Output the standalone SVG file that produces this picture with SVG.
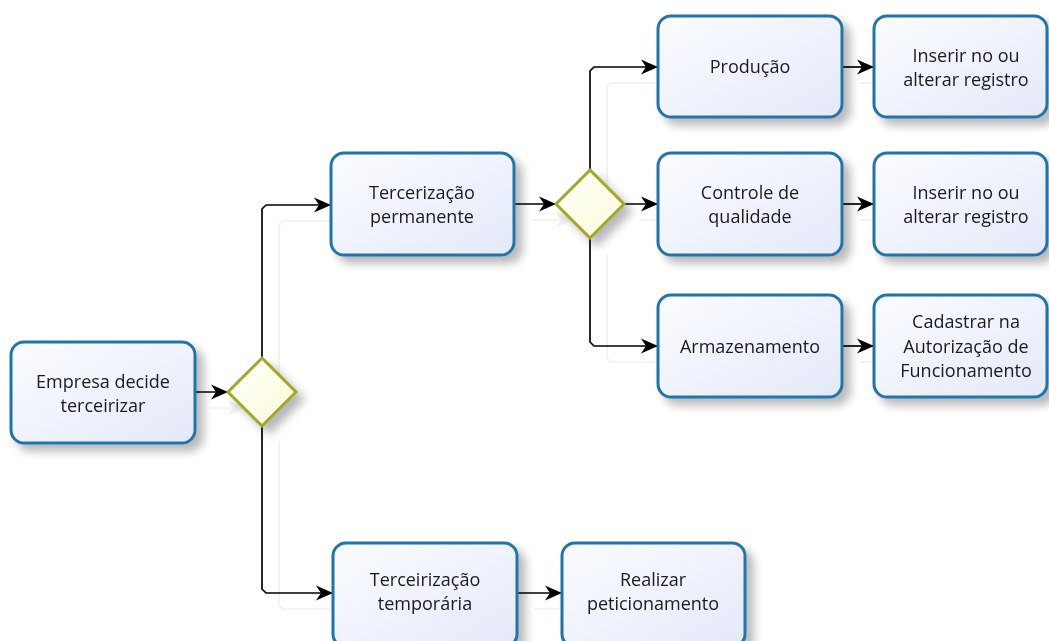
<svg xmlns="http://www.w3.org/2000/svg" width="1049" height="641" viewBox="0 0 1049 641">
<style>
.box{fill:url(#boxGrad);stroke:#2473a8;stroke-width:3}
.gw{fill:url(#gwGrad);stroke:#a5a52a;stroke-width:3}
.lbl{font-family:"Open Sans","DejaVu Sans","Liberation Sans",sans-serif;font-size:18px;fill:#1a1a1a;text-anchor:middle}
.con{fill:none;stroke:#000;stroke-width:1.7;marker-end:url(#arrow)}
</style>
<defs>
<linearGradient id="boxGrad" x1="0" y1="0" x2="1" y2="1">
<stop offset="0" stop-color="#fbfcff"/>
<stop offset="1" stop-color="#e4e9f9"/>
</linearGradient>
<linearGradient id="gwGrad" x1="0" y1="0" x2="1" y2="1">
<stop offset="0" stop-color="#ffffff"/>
<stop offset="1" stop-color="#fbfbd6"/>
</linearGradient>
<filter id="shadow" x="-20%" y="-20%" width="150%" height="150%">
<feGaussianBlur in="SourceAlpha" stdDeviation="5"/>
<feOffset dx="7" dy="7" result="b"/>
<feComponentTransfer><feFuncA type="linear" slope="0.28"/></feComponentTransfer>
<feMerge><feMergeNode/><feMergeNode in="SourceGraphic"/></feMerge>
</filter>
<filter id="lineShadow" x="-20%" y="-20%" width="150%" height="150%">
<feOffset in="SourceAlpha" dx="17" dy="16"/>
<feGaussianBlur stdDeviation="0.7"/>
<feComponentTransfer><feFuncA type="linear" slope="0.06"/></feComponentTransfer>
<feMerge><feMergeNode/><feMergeNode in="SourceGraphic"/></feMerge>
</filter>
<marker id="arrow" markerWidth="18" markerHeight="18" viewBox="0 0 18 18" refX="17" refY="9" orient="auto" markerUnits="userSpaceOnUse">
<path d="M0,1.5 L17,9 L0,16.5 L5,9 Z" fill="#000"/>
</marker>
</defs>
<rect width="1049" height="641" fill="#ffffff"/>

<g id="connectors" filter="url(#lineShadow)">
<path class="con" d="M195,392 H228"/>
<path class="con" d="M262,358 V209 L266,205 H331"/>
<path class="con" d="M262,426 V589 L266,593 H333"/>
<path class="con" d="M514,204 H556"/>
<path class="con" d="M590,170 V71 L594,67 H658"/>
<path class="con" d="M624,204 H658"/>
<path class="con" d="M590,238 V342 L594,346 H658"/>
<path class="con" d="M842,67 H874"/>
<path class="con" d="M842,204 H874"/>
<path class="con" d="M842,346 H874"/>
<path class="con" d="M517,593 H562"/>
</g>

<g id="n1" filter="url(#shadow)">
<rect class="box" x="11" y="342" width="184" height="101" rx="13"/>
<text class="lbl" x="103" y="388">Empresa decide</text>
<text class="lbl" x="103" y="412">terceirizar</text>
</g>
<g id="g1" filter="url(#shadow)">
<polygon class="gw" points="262,358 296,392 262,426 228,392"/>
</g>
<g id="n2" filter="url(#shadow)">
<rect class="box" x="331" y="153" width="183" height="102" rx="13"/>
<text class="lbl" x="422" y="199">Tercerização</text>
<text class="lbl" x="422" y="223">permanente</text>
</g>
<g id="g2" filter="url(#shadow)">
<polygon class="gw" points="590,170 624,204 590,238 556,204"/>
</g>
<g id="n3" filter="url(#shadow)">
<rect class="box" x="658" y="16" width="184" height="101" rx="13"/>
<text class="lbl" x="750" y="73">Produção</text>
</g>
<g id="n4" filter="url(#shadow)">
<rect class="box" x="874" y="16" width="173" height="101" rx="13"/>
<text class="lbl" x="966" y="62">Inserir no ou</text>
<text class="lbl" x="966" y="86">alterar registro</text>
</g>
<g id="n5" filter="url(#shadow)">
<rect class="box" x="658" y="153" width="184" height="102" rx="13"/>
<text class="lbl" x="750" y="199">Controle de</text>
<text class="lbl" x="750" y="223">qualidade</text>
</g>
<g id="n6" filter="url(#shadow)">
<rect class="box" x="874" y="153" width="173" height="102" rx="13"/>
<text class="lbl" x="966" y="199">Inserir no ou</text>
<text class="lbl" x="966" y="223">alterar registro</text>
</g>
<g id="n7" filter="url(#shadow)">
<rect class="box" x="658" y="295" width="184" height="102" rx="13"/>
<text class="lbl" x="750" y="353">Armazenamento</text>
</g>
<g id="n8" filter="url(#shadow)">
<rect class="box" x="874" y="295" width="173" height="102" rx="13"/>
<text class="lbl" x="966" y="328">Cadastrar na</text>
<text class="lbl" x="966" y="353">Autorização de</text>
<text class="lbl" x="966" y="377">Funcionamento</text>
</g>
<g id="n9" filter="url(#shadow)">
<rect class="box" x="333" y="543" width="184" height="104" rx="13"/>
<text class="lbl" x="425" y="586">Terceirização</text>
<text class="lbl" x="425" y="610">temporária</text>
</g>
<g id="n10" filter="url(#shadow)">
<rect class="box" x="562" y="543" width="183" height="104" rx="13"/>
<text class="lbl" x="653" y="586">Realizar</text>
<text class="lbl" x="653" y="610">peticionamento</text>
</g>
</svg>
